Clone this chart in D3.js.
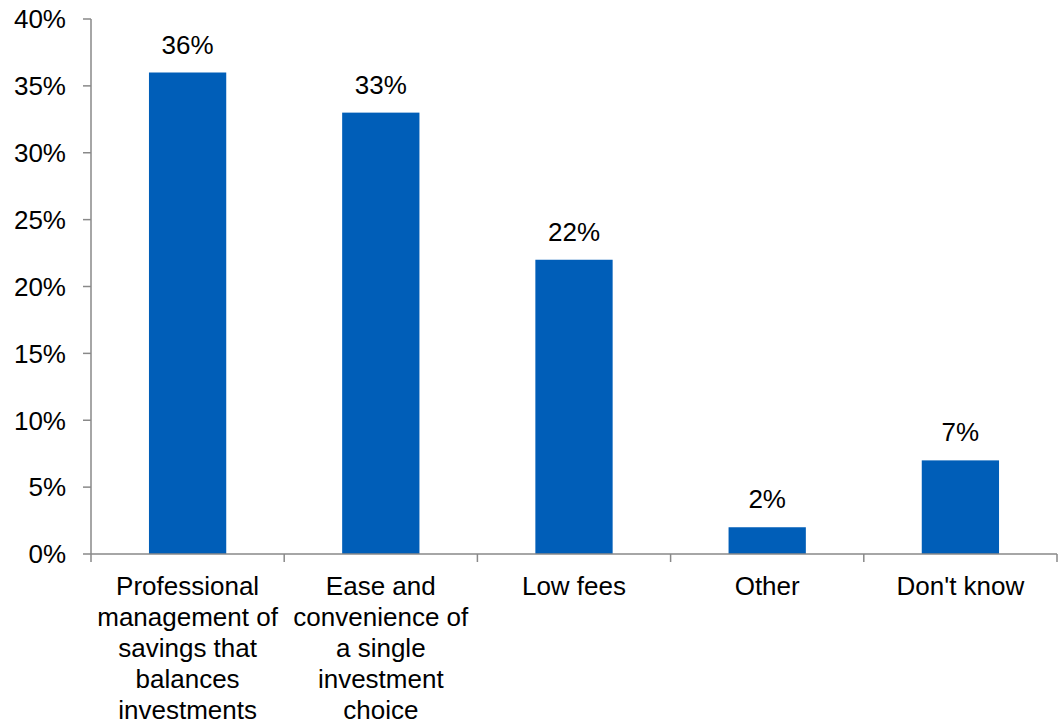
<!DOCTYPE html>
<html><head><meta charset="utf-8">
<script src="https://cdn.jsdelivr.net/npm/d3@7"></script>
<style>body{margin:0;background:#fff}svg{display:block}text{font-family:"Liberation Sans",Arial,sans-serif}</style>
</head><body><svg id="c" width="1062" height="721"></svg>
<script>
const categories = ["Professional management of savings that balances investments","Ease and convenience of a single investment choice","Low fees","Other","Don't know"];
const labelLines = [["Professional","management of","savings that","balances","investments"],["Ease and","convenience of","a single","investment","choice"],["Low fees"],["Other"],["Don't know"]];
const values = [36,33,22,2,7];
const yTicks = [0,5,10,15,20,25,30,35,40];

(function(){
const svg = d3.select("#c");
const mLeft = 91, mRight = 1057, mTop = 19, mBottom = 554;
const x = d3.scaleBand().domain(categories).range([mLeft,mRight]).paddingInner(0.6).paddingOuter(0.3);
const xb = d3.scaleBand().domain(categories).range([mLeft,mRight]);
const y = d3.scaleLinear().domain([0,40]).range([mBottom,mTop]);
const axisColor = "#898989";
const fs = 26;

const ya = svg.append("g");
ya.append("line").attr("x1",mLeft).attr("x2",mLeft).attr("y1",y(40)).attr("y2",y(0)).attr("stroke",axisColor).attr("stroke-width",1.5);
yTicks.forEach(t=>{
  ya.append("line").attr("x1",mLeft-8).attr("x2",mLeft).attr("y1",y(t)).attr("y2",y(t)).attr("stroke",axisColor).attr("stroke-width",1.5);
  ya.append("text").attr("x",66).attr("y",y(t)).attr("dy","0.36em").attr("text-anchor","end").attr("font-size",fs).attr("fill","#000").text(t+"%");
});

svg.selectAll("rect.bar").data(values).enter().append("rect")
  .attr("x",(d,i)=>x(categories[i])).attr("width",x.bandwidth())
  .attr("y",d=>y(d)).attr("height",d=>y(0)-y(d)).attr("fill","#005EB8");

svg.selectAll("text.val").data(values).enter().append("text")
  .attr("x",(d,i)=>x(categories[i])+x.bandwidth()/2).attr("y",d=>y(d)-19)
  .attr("text-anchor","middle").attr("font-size",fs).attr("fill","#000").text(d=>d+"%");

const xa = svg.append("g");
xa.append("line").attr("x1",mLeft).attr("x2",mRight).attr("y1",mBottom).attr("y2",mBottom).attr("stroke",axisColor).attr("stroke-width",1.5);
const bounds = categories.map(c=>xb(c)).concat([mRight]);
bounds.forEach(b=>{
  xa.append("line").attr("x1",b).attr("x2",b).attr("y1",mBottom).attr("y2",mBottom+8).attr("stroke",axisColor).attr("stroke-width",1.5);
});
categories.forEach((c,i)=>{
  const t = xa.append("text").attr("text-anchor","middle").attr("font-size",fs).attr("fill","#000");
  labelLines[i].forEach((ln,j)=>{
    t.append("tspan").attr("x",xb(c)+xb.bandwidth()/2).attr("y",595+j*31).text(ln);
  });
});
})();
</script></body></html>
